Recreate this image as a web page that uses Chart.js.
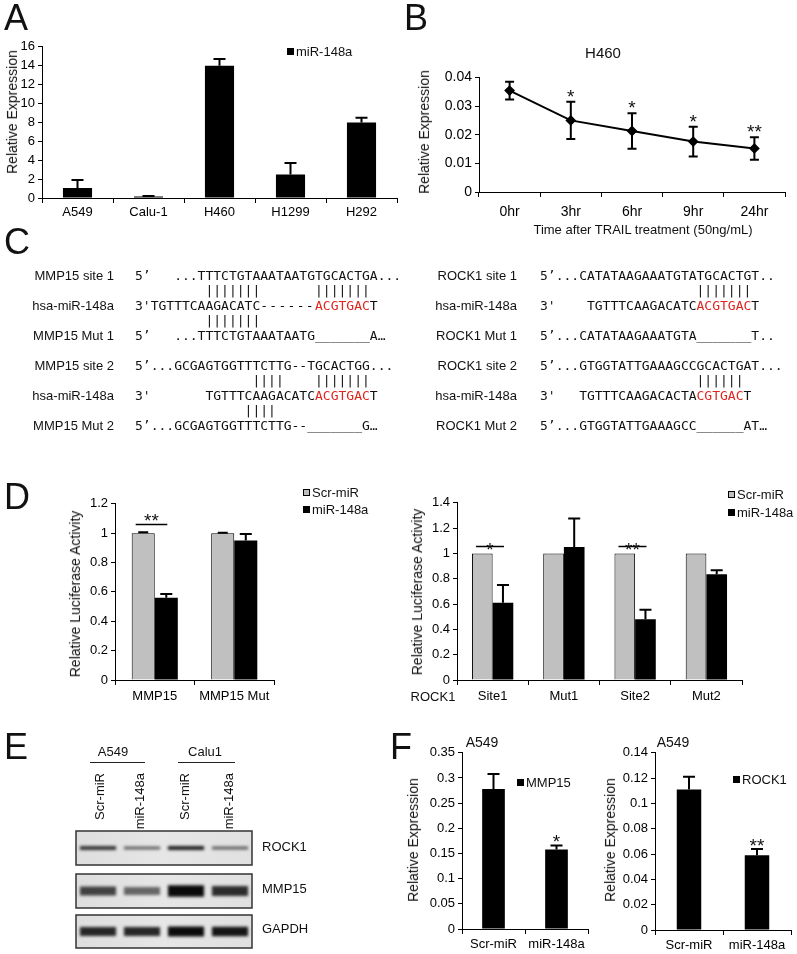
<!DOCTYPE html>
<html>
<head>
<meta charset="utf-8">
<script src="https://cdn.jsdelivr.net/npm/chart.js@4.4.1/dist/chart.umd.min.js"></script>
<style>
body{margin:0;background:#fff;}
#fig{position:relative;width:797px;height:954px;overflow:hidden;background:#fff;
  font-family:"Liberation Sans",Arial,sans-serif;color:#111;}
#fig canvas{position:absolute;}
.t{position:absolute;white-space:pre;line-height:1.15;will-change:transform;}
.seq{font-family:"DejaVu Sans Mono",monospace;font-size:13px;}
.red{color:#e0251f;}
.wide{letter-spacing:1.3px;}
.rule{position:absolute;height:0;border-top:1px solid #222;}
.box{position:absolute;width:7px;height:7px;}
</style>
</head>
<body>
<div id="fig"></div>
<script>
/* data */
const cellLinesA = ['A549', 'Calu-1', 'H460', 'H1299', 'H292'];
const miR148aA = [1.05, 0.15, 14.0, 2.5, 8.0];
const miR148aAErr = [0.85, 0.05, 0.7, 1.2, 0.5];
const yTicksA = [0, 2, 4, 6, 8, 10, 12, 14, 16];

const timesB = ['0hr', '3hr', '6hr', '9hr', '24hr'];
const h460B = [0.0354, 0.0250, 0.0213, 0.0176, 0.0152];
const h460BErr = [0.0031, 0.0065, 0.0062, 0.0052, 0.0039];
const starsB = ['', '*', '*', '*', '**'];
const yTicksB = [0, 0.01, 0.02, 0.03, 0.04];

const mmpCatsD = ['MMP15', 'MMP15 Mut'];
const mmpScrD = [1.0, 1.0];
const mmpScrErrD = [0.006, 0.003];
const mmpMirD = [0.56, 0.95];
const mmpMirErrD = [0.025, 0.045];
const mmpStarsD = ['**', ''];
const yTicksD1 = [0, 0.2, 0.4, 0.6, 0.8, 1, 1.2];

const rockCatsD = ['Site1', 'Mut1', 'Site2', 'Mut2'];
const rockScrD = [1.0, 1.0, 1.0, 1.0];
const rockMirD = [0.61, 1.05, 0.48, 0.835];
const rockMirErrD = [0.14, 0.225, 0.075, 0.033];
const rockStarsD = ['*', '', '**', ''];
const yTicksD2 = [0, 0.2, 0.4, 0.6, 0.8, 1, 1.2, 1.4];

const lanesE = ['Scr-miR', 'miR-148a', 'Scr-miR', 'miR-148a'];
const rock1E = [0.7, 0.4, 0.85, 0.42];
const mmp15E = [0.6, 0.35, 1.0, 0.75];
const gapdhE = [0.8, 0.8, 1.0, 0.92];

const groupsF = ['Scr-miR', 'miR-148a'];
const mmp15F = [0.278, 0.158];
const mmp15FErr = [0.03, 0.008];
const starsMmpF = ['', '*'];
const yTicksF1 = [0, 0.05, 0.1, 0.15, 0.2, 0.25, 0.3, 0.35];
const rock1F = [0.111, 0.059];
const rock1FErr = [0.010, 0.005];
const starsRockF = ['', '**'];
const yTicksF2 = [0, 0.02, 0.04, 0.06, 0.08, 0.1, 0.12, 0.14];

/* setup */
Chart.defaults.font.family = '"Liberation Sans", Arial, sans-serif';
Chart.defaults.font.size = 13;
Chart.defaults.color = '#000';
Chart.defaults.animation = false;
Chart.defaults.events = [];
Chart.defaults.plugins.legend.display = false;
Chart.defaults.plugins.tooltip.enabled = false;

const fig = document.getElementById('fig');

function text(str, x, y, o = {}){
  const d = document.createElement('div');
  d.className = 't ' + (o.cls || '');
  d.style.fontSize = (o.size || 13) + 'px';
  d.style.left = x + 'px';
  d.style.top = y + 'px';
  const anchors = {
    c: 'translate(-50%,-50%)',
    l: 'translate(0,-50%)',
    r: 'translate(-100%,-50%)',
    v: 'translate(-50%,-50%) rotate(-90deg)'
  };
  d.style.transform = anchors[o.a || 'c'];
  if (o.html) d.innerHTML = str; else d.textContent = str;
  fig.appendChild(d);
  return d;
}

function rule(x0, x1, y){
  const d = document.createElement('div');
  d.className = 'rule';
  Object.assign(d.style, {left: x0 + 'px', top: y + 'px', width: (x1 - x0) + 'px'});
  fig.appendChild(d);
}

function legendItem(x, y, fill, label, outline){
  const b = document.createElement('div');
  b.className = 'box';
  Object.assign(b.style, {left: x + 'px', top: (y - 4) + 'px', background: fill,
    boxSizing: 'border-box', border: outline ? '1px solid #000' : 'none'});
  fig.appendChild(b);
  text(label, x + 9, y, {a: 'l', size: 13});
}

function mkCanvas(left, top, w, h){
  const c = document.createElement('canvas');
  c.width = w; c.height = h;
  Object.assign(c.style, {left: left + 'px', top: top + 'px', width: w + 'px', height: h + 'px'});
  fig.appendChild(c);
  return c;
}

/* plugins */
const errorBars = {
  id: 'errorBars',
  afterDatasetsDraw(chart){
    const {ctx} = chart, y = chart.scales.y;
    chart.data.datasets.forEach((ds, i) => {
      if (!ds.err) return;
      const meta = chart.getDatasetMeta(i);
      ctx.save();
      ctx.strokeStyle = '#000';
      ctx.lineWidth = 2;
      meta.data.forEach((el, j) => {
        const e = ds.err[j];
        if (!e) return;
        const v = ds.data[j];
        const top = y.getPixelForValue(v + e);
        const bot = ds.errBoth ? y.getPixelForValue(v - e) : el.y;
        const cap = ds.cap || 6;
        ctx.beginPath();
        ctx.moveTo(el.x, bot); ctx.lineTo(el.x, top);
        ctx.moveTo(el.x - cap, top); ctx.lineTo(el.x + cap, top);
        if (ds.errBoth){ ctx.moveTo(el.x - cap, bot); ctx.lineTo(el.x + cap, bot); }
        ctx.stroke();
      });
      ctx.restore();
    });
  }
};

const sig = {
  id: 'sig',
  afterDatasetsDraw(chart, args, o){
    if (!o.marks) return;
    const {ctx} = chart, y = chart.scales.y;
    ctx.save();
    ctx.fillStyle = '#111';
    ctx.strokeStyle = '#000';
    ctx.lineWidth = 1.5;
    ctx.font = '19px "Liberation Sans", Arial, sans-serif';
    ctx.textAlign = 'center';
    ctx.textBaseline = 'alphabetic';
    o.marks.forEach((m, j) => {
      if (!m) return;
      if (o.mode === 'pair'){
        const a = chart.getDatasetMeta(0).data[j], b = chart.getDatasetMeta(1).data[j];
        const ly = Math.round(y.getPixelForValue(o.lineAt)) + 0.5;
        const x0 = a.x - a.width / 2 + 4, x1 = b.x + 1;
        ctx.beginPath(); ctx.moveTo(x0, ly); ctx.lineTo(x1, ly); ctx.stroke();
        ctx.fillText(m, (x0 + x1) / 2, ly + o.dy);
      } else {
        const ds = chart.data.datasets[o.ds || 0];
        const el = chart.getDatasetMeta(o.ds || 0).data[j];
        const top = y.getPixelForValue(ds.data[j] + (ds.err ? ds.err[j] : 0));
        ctx.fillText(m, el.x, top + o.dy);
      }
    });
    ctx.restore();
  }
};

const blotFrame = {
  id: 'blotFrame',
  beforeDatasetsDraw(chart){
    const {ctx, chartArea: a} = chart;
    ctx.save();
    const g = ctx.createLinearGradient(a.left, 0, a.right, 0);
    g.addColorStop(0, '#dedede'); g.addColorStop(0.5, '#e6e6e6'); g.addColorStop(1, '#e0e0e0');
    ctx.fillStyle = g;
    ctx.fillRect(a.left, a.top, a.right - a.left, a.bottom - a.top);
    ctx.filter = 'blur(1.8px)';
  },
  afterDatasetsDraw(chart){
    const {ctx, chartArea: a} = chart;
    ctx.restore();
    ctx.save();
    ctx.strokeStyle = '#333';
    ctx.lineWidth = 1.5;
    ctx.strokeRect(a.left, a.top, a.right - a.left, a.bottom - a.top);
    ctx.restore();
  }
};

/* axes */
function axes(b, yTicks, xPad, fs = 13){
  return {
    x: {
      type: 'category', offset: true,
      grid: {offset: true, drawOnChartArea: false, color: '#000', tickLength: 5},
      border: {color: '#000', width: 1},
      ticks: {padding: xPad, maxRotation: 0, autoSkip: false, font: {size: fs}},
      afterFit: s => { s.height = b.xh; }
    },
    y: {
      min: yTicks[0], max: yTicks[yTicks.length - 1],
      afterBuildTicks: s => { s.ticks = yTicks.map(v => ({value: v})); },
      grid: {drawOnChartArea: false, color: '#000', tickLength: 4},
      border: {color: '#000', width: 1},
      ticks: {padding: 3, font: {size: fs}, format: {minimumFractionDigits: 0, maximumFractionDigits: 3}},
      afterFit: s => { s.width = b.yw; }
    }
  };
}

function chartAt(b, cfg){
  const left = b.ax - b.yw, top = b.ay0 - 10;
  const c = mkCanvas(left, top, b.ax1 - left + 5, b.ay1 - top + b.xh);
  cfg.options.responsive = false;
  cfg.options.layout = {padding: {top: 10, right: 5, left: 0, bottom: 0}};
  return new Chart(c, cfg);
}

/* panel A */
const boxA = {ax: 42, ay0: 46, ay1: 198, ax1: 397, yw: 30, xh: 24};
chartAt(boxA, {
  type: 'bar',
  data: {labels: cellLinesA, datasets: [{data: miR148aA, err: miR148aAErr, cap: 6,
    backgroundColor: '#000', barPercentage: 0.41, categoryPercentage: 1}]},
  options: {scales: axes(boxA, yTicksA, 2)},
  plugins: [errorBars]
});

/* panel B */
const boxB = {ax: 479, ay0: 76, ay1: 192, ax1: 786, yw: 40, xh: 28};
chartAt(boxB, {
  type: 'line',
  data: {labels: timesB, datasets: [{data: h460B, err: h460BErr, errBoth: true, cap: 4.5,
    borderColor: '#000', borderWidth: 2, tension: 0, pointStyle: 'rectRot', pointRadius: 4,
    pointBackgroundColor: '#000', pointBorderColor: '#000'}]},
  options: {scales: axes(boxB, yTicksB, 7, 14), plugins: {sig: {marks: starsB, mode: 'above', dy: 1}}},
  plugins: [errorBars, sig]
});

/* panel D */
const boxD1 = {ax: 115, ay0: 503, ay1: 680, ax1: 274, yw: 36, xh: 26};
chartAt(boxD1, {
  type: 'bar',
  data: {labels: mmpCatsD, datasets: [
    {data: mmpScrD, err: mmpScrErrD, cap: 5, backgroundColor: '#c0c0c0', borderColor: '#000', borderWidth: 1,
      barPercentage: 1, categoryPercentage: 0.58},
    {data: mmpMirD, err: mmpMirErrD, cap: 6, backgroundColor: '#000', barPercentage: 1, categoryPercentage: 0.58}
  ]},
  options: {scales: axes(boxD1, yTicksD1, 4), plugins: {sig: {marks: mmpStarsD, mode: 'pair', lineAt: 1.06, dy: 2}}},
  plugins: [errorBars, sig]
});

const boxD2 = {ax: 457, ay0: 502, ay1: 680, ax1: 742, yw: 36, xh: 26};
chartAt(boxD2, {
  type: 'bar',
  data: {labels: rockCatsD, datasets: [
    {data: rockScrD, backgroundColor: '#c0c0c0', borderColor: '#000', borderWidth: 1,
      barPercentage: 1, categoryPercentage: 0.58},
    {data: rockMirD, err: rockMirErrD, cap: 6, backgroundColor: '#000', barPercentage: 1, categoryPercentage: 0.58}
  ]},
  options: {scales: axes(boxD2, yTicksD2, 4), plugins: {sig: {marks: rockStarsD, mode: 'pair', lineAt: 1.06, dy: 9}}},
  plugins: [errorBars, sig]
});

/* panel E: blots */
function blot(vals, thick, x, y, w, h){
  const c = mkCanvas(x, y, w, h);
  new Chart(c, {
    type: 'bar',
    data: {labels: lanesE, datasets: [{
      data: vals.map(v => { const s = thick * (0.5 + 0.5 * v); return [-s, s]; }),
      backgroundColor: vals.map(v => `rgba(10,10,10,${(0.35 + 0.65 * v).toFixed(2)})`),
      barPercentage: 0.82, categoryPercentage: 1
    }]},
    options: {responsive: false, layout: {padding: 1},
      scales: {x: {display: false}, y: {display: false, min: -1, max: 1}}},
    plugins: [blotFrame]
  });
}
blot(rock1E, 0.13, 75, 830, 178, 36);
blot(mmp15E, 0.34, 75, 873, 178, 36);
blot(gapdhE, 0.3, 75, 914, 178, 35);

/* panel F */
const boxF1 = {ax: 462, ay0: 752, ay1: 929, ax1: 588, yw: 40, xh: 24};
chartAt(boxF1, {
  type: 'bar',
  data: {labels: groupsF, datasets: [{data: mmp15F, err: mmp15FErr, cap: 6,
    backgroundColor: '#000', barPercentage: 0.36, categoryPercentage: 1}]},
  options: {scales: axes(boxF1, yTicksF1, 3), plugins: {sig: {marks: starsMmpF, mode: 'above', dy: 3}}},
  plugins: [errorBars, sig]
});

const boxF2 = {ax: 655, ay0: 752, ay1: 930, ax1: 791, yw: 40, xh: 24};
chartAt(boxF2, {
  type: 'bar',
  data: {labels: groupsF, datasets: [{data: rock1F, err: rock1FErr, cap: 6,
    backgroundColor: '#000', barPercentage: 0.36, categoryPercentage: 1}]},
  options: {scales: axes(boxF2, yTicksF2, 3), plugins: {sig: {marks: starsRockF, mode: 'above', dy: 3}}},
  plugins: [errorBars, sig]
});

/* panel letters */
[['A', 4, 0], ['B', 404, 0], ['C', 4, 224], ['D', 4, 479], ['E', 4, 729], ['F', 390, 729]]
  .forEach(([s, x, y]) => { const d = text(s, x, y, {size: 36}); d.style.transform = 'none'; d.style.lineHeight = '1'; });

/* titles and labels */
text('Relative Expression', 12, 112, {a: 'v', size: 14});
legendItem(287, 52, '#000', 'miR-148a');

text('H460', 603, 53, {size: 15});
text('Relative Expression', 424, 132, {a: 'v', size: 14});
text('Time after TRAIL treatment (50ng/mL)', 643, 230);

text('Relative Luciferase Activity', 75, 594, {a: 'v', size: 14});
legendItem(303, 493, '#c0c0c0', 'Scr-miR', true);
legendItem(303, 510, '#000', 'miR-148a');
text('Relative Luciferase Activity', 417, 592, {a: 'v', size: 14});
legendItem(728, 495, '#c0c0c0', 'Scr-miR', true);
legendItem(728, 513, '#000', 'miR-148a');
text('ROCK1', 433, 697);

text('A549', 482, 742, {size: 14});
text('Relative Expression', 413, 840, {a: 'v', size: 14});
legendItem(517, 783, '#000', 'MMP15');
text('A549', 673, 742, {size: 14});
text('Relative Expression', 610, 840, {a: 'v', size: 14});
legendItem(733, 780, '#000', 'ROCK1');

/* panel E labels */
text('A549', 113, 752);
text('Calu1', 205, 752);
rule(90, 145, 762);
rule(178, 235, 762);
[100, 140, 185, 229].forEach((cx, i) => {
  const d = document.createElement('div');
  d.className = 't';
  d.textContent = lanesE[i];
  Object.assign(d.style, {fontSize: '13px', width: '70px', height: '14px', lineHeight: '14px',
    textAlign: 'right', left: (cx - 7) + 'px', top: '843px', transformOrigin: '0 0', transform: 'rotate(-90deg)'});
  fig.appendChild(d);
});
text('ROCK1', 262, 847, {a: 'l'});
text('MMP15', 262, 889, {a: 'l'});
text('GAPDH', 262, 929, {a: 'l'});

/* panel C: sequences */
const R = s => `<span class="red">${s}</span>`;
const seqLeft = [
  [276, 'MMP15 site 1', "5’   ...TTTCTGTAAATAATGTGCACTGA..."],
  [291, '', "         |||||||       |||||||"],
  [306, 'hsa-miR-148a', "3'TGTTTCAAGACATC<span class=\"wide\">------</span>" + R('ACGTGAC') + "T"],
  [321, '', "         |||||||"],
  [336, 'MMP15 Mut 1', "5’   ...TTTCTGTAAATAATG_______A…"],
  [366, 'MMP15 site 2', "5’...GCGAGTGGTTTCTTG--TGCACTGG..."],
  [381, '', "               ||||    |||||||"],
  [396, 'hsa-miR-148a', "3'       TGTTTCAAGACATC" + R('ACGTGAC') + "T"],
  [411, '', "              ||||"],
  [426, 'MMP15 Mut 2', "5’...GCGAGTGGTTTCTTG--_______G…"]
];
const seqRight = [
  [276, 'ROCK1 site 1', "5’...CATATAAGAAATGTATGCACTGT.."],
  [291, '', "                    |||||||"],
  [306, 'hsa-miR-148a', "3'    TGTTTCAAGACATC" + R('ACGTGAC') + "T"],
  [336, 'ROCK1 Mut 1', "5’...CATATAAGAAATGTA_______T.."],
  [366, 'ROCK1 site 2', "5’...GTGGTATTGAAAGCCGCACTGAT..."],
  [381, '', "                    ||||||"],
  [396, 'hsa-miR-148a', "3'   TGTTTCAAGACACTA" + R('CGTGAC') + "T"],
  [426, 'ROCK1 Mut 2', "5’...GTGGTATTGAAAGCC______AT…"]
];
function seqBlock(rows, labelRight, seqLeftX){
  rows.forEach(([y, lab, seq]) => {
    if (lab) text(lab, labelRight, y, {a: 'r'});
    text(seq, seqLeftX, y, {a: 'l', cls: 'seq', html: true});
  });
}
seqBlock(seqLeft, 114, 135);
seqBlock(seqRight, 517, 540);
</script>
</body>
</html>
